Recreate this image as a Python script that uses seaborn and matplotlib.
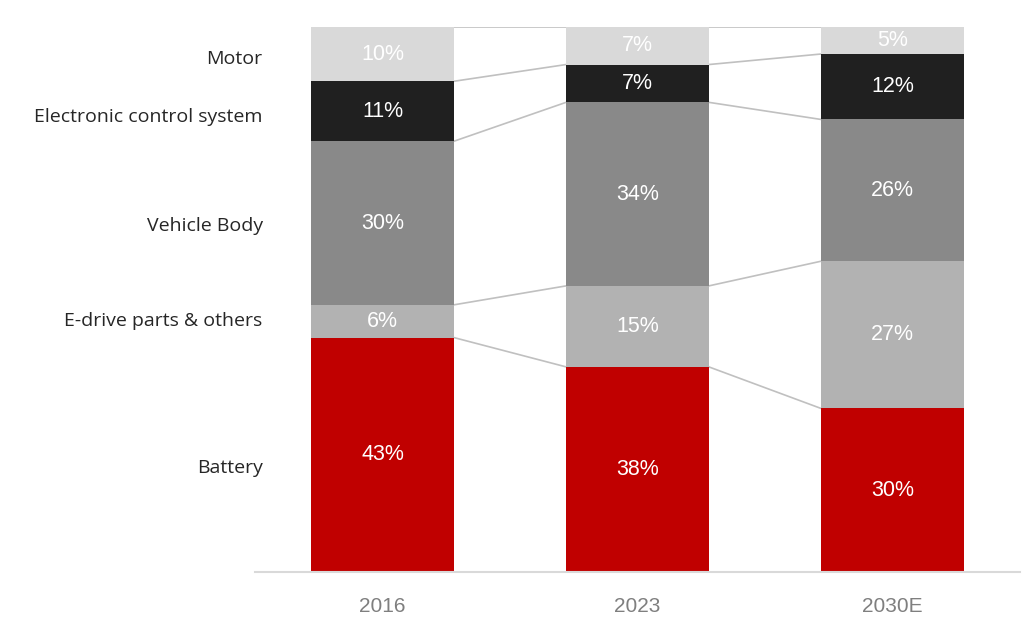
import numpy as np
import pandas as pd
import matplotlib
matplotlib.use('Agg')
import matplotlib.pyplot as plt
import seaborn as sns

# data (bottom -> top of the stack)
years = ['2016', '2023', '2030E']
segments = ['Battery', 'E-drive parts & others', 'Vehicle Body',
            'Electronic control system', 'Motor']
battery = [43, 38, 30]
edrive = [6, 15, 27]
body = [30, 34, 26]
electronic = [11, 7, 12]
motor = [10, 7, 5]

colors = ['#c00000', '#b2b2b2', '#898989', '#202020', '#d9d9d9']

sns.set_theme(style='white')
plt.rcParams['font.family'] = ['Liberation Sans', 'DejaVu Sans']

vals = np.array([battery, edrive, body, electronic, motor], dtype=float)
# heights scaled so every column fills 100%
scaled = vals / vals.sum(axis=0) * 100
tops = scaled.cumsum(axis=0)
bottoms = tops - scaled

fig = plt.figure(figsize=(10.24, 6.37), dpi=100)
ax = fig.add_axes([0.249, 0.102, 0.747, 0.856])

bar_w = 0.56
# draw from the top layer down so each layer covers the one above it
for i in range(len(segments) - 1, -1, -1):
    df = pd.DataFrame({'year': years, 'top': tops[i]})
    sns.barplot(data=df, x='year', y='top', color=colors[i], width=bar_w,
                saturation=1, ax=ax, linewidth=0, zorder=2)

# connector lines between bars
for i in range(len(segments)):
    for j in range(len(years) - 1):
        ax.plot([j + bar_w / 2, j + 1 - bar_w / 2], [tops[i][j], tops[i][j + 1]],
                color='#c0c0c0', lw=1.2, zorder=1, solid_capstyle='butt')

# percentage labels
for i in range(len(segments)):
    for j in range(len(years)):
        ax.text(j, bottoms[i][j] + scaled[i][j] / 2, f'{int(vals[i][j])}%',
                ha='center', va='center', color='white', fontsize=15.5, zorder=3)

# segment names on the left, next to the first column
name_shift = [-2.5, 0, -0.5, -1, -1]  # small nudges, as in the original layout
for i, name in enumerate(segments):
    ax.text(-0.47, bottoms[i][0] + scaled[i][0] / 2 + name_shift[i], name,
            ha='right', va='center', fontsize=14, color='#262626',
            family=['Open Sans', 'DejaVu Sans'])

ax.set_xlim(-0.5, 2.5)
ax.set_ylim(0, 100)
ax.set_xlabel('')
ax.set_ylabel('')
ax.set_yticks([])
ax.tick_params(axis='x', length=0, pad=18, labelsize=15, labelcolor='#7f7f7f')
for s in ['top', 'right', 'left']:
    ax.spines[s].set_visible(False)
ax.spines['bottom'].set_color('#d9d9d9')
ax.spines['bottom'].set_linewidth(1.5)

fig.savefig('out.png', dpi=100)
